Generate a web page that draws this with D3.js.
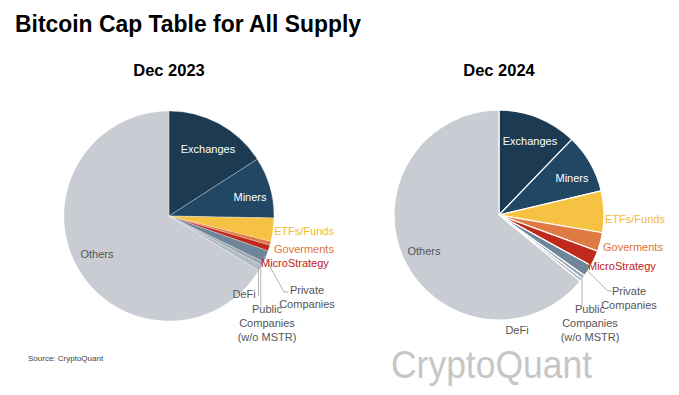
<!DOCTYPE html>
<html lang="en">
<head>
    <meta charset="UTF-8">
    <title>Bitcoin Cap Table for All Supply</title>
    <script src="https://d3js.org/d3.v7.min.js"></script>
    <style>
        body { margin: 0; background: #fff; }
        svg { font-family: "Liberation Sans", Arial, sans-serif; }
    </style>
</head>
<body>
<div id="chart"></div>
<script>
const width = 679;
const height = 395;

// holder categories, clockwise from 12 o'clock
const categories = ["Exchanges", "Miners", "ETFs/Funds", "Goverments", "MicroStrategy",
    "Private Companies", "Public Companies (w/o MSTR)", "DeFi", "Others"];

// share of supply (%)
const values2023 = [15.9, 9.4, 3.6, 0.6, 0.9, 1.8, 0.6, 0.9, 66.3];
const values2024 = [12.2, 9.1, 6.4, 2.9, 2.4, 1.8, 0.6, 0.5, 64.1];

const sliceColors = ["#1c3a52", "#214765", "#f6c244", "#e07a43", "#bf2a1c",
    "#6f8599", "#97a5b3", "#b2bbc5", "#c9cdd3"];
const labelColors = ["#ffffff", "#ffffff", "#f2b933", "#e0733a", "#c0221a",
    "#555", "#555", "#555", "#555"];

const svg = d3.select("#chart").append("svg")
    .attr("width", width)
    .attr("height", height);

svg.append("text")
    .attr("x", 15).attr("y", 32)
    .attr("font-size", 23).attr("font-weight", "bold")
    .attr("textLength", 346).attr("lengthAdjust", "spacingAndGlyphs")
    .text("Bitcoin Cap Table for All Supply");

svg.append("text")
    .attr("x", 28).attr("y", 361)
    .attr("font-size", 8).attr("fill", "#444")
    .text("Source: CryptoQuant");

// watermark
svg.append("text")
    .attr("x", 391).attr("y", 378)
    .attr("font-size", 38).attr("fill", "#c6c6c6")
    .attr("textLength", 201).attr("lengthAdjust", "spacingAndGlyphs")
    .text("CryptoQuant");

const r = 105;
const pie = d3.pie().sort(null).value(d => d);
const arc = d3.arc().innerRadius(0).outerRadius(r);

// label layout relative to pie center: [dx, dy, anchor, lines]
const layouts = {
    "2023": {
        cx: 169, cy: 216, stroke: 0.3,
        labels: [
            [39, -67, "middle", ["Exchanges"]],
            [81, -19, "middle", ["Miners"]],
            [105, 15, "start", ["ETFs/Funds"]],
            [105, 33, "start", ["Goverments"]],
            [92, 47, "start", ["MicroStrategy"]],
            [138, 74, "middle", ["Private", "Companies"]],
            [98, 93, "middle", ["Public", "Companies", "(w/o MSTR)"]],
            [75, 78, "middle", ["DeFi"]],
            [-72, 38, "middle", ["Others"]]
        ],
        leaders: { 5: [[115, 76], [119, 76]], 6: [null, [null, 90]], 7: [null, [null, 80]] }
    },
    "2024": {
        cx: 499, cy: 215, stroke: 1.2,
        labels: [
            [31, -74, "middle", ["Exchanges"]],
            [73, -37, "middle", ["Miners"]],
            [106, 4, "start", ["ETFs/Funds"]],
            [104, 32, "start", ["Goverments"]],
            [89, 51, "start", ["MicroStrategy"]],
            [130, 76, "middle", ["Private", "Companies"]],
            [91, 94, "middle", ["Public", "Companies", "(w/o MSTR)"]],
            [18, 115, "middle", ["DeFi"]],
            [-75, 36, "middle", ["Others"]]
        ],
        leaders: { 5: [[109, 76], [113, 76]], 6: [null, [null, 92]] }
    }
};

function drawPie(year, values) {
    const L = layouts[year];
    const g = svg.append("g").attr("transform", `translate(${L.cx},${L.cy})`);

    svg.append("text")
        .attr("x", L.cx).attr("y", 76)
        .attr("text-anchor", "middle")
        .attr("font-size", 16.5).attr("font-weight", "bold")
        .text("Dec " + year);

    const arcs = pie(values);

    g.selectAll("path")
        .data(arcs)
        .join("path")
        .attr("d", arc)
        .attr("fill", (d, i) => sliceColors[i])
        .attr("stroke", "#fff")
        .attr("stroke-width", L.stroke)
        .attr("stroke-linejoin", "round");

    // leader lines from the slice rim to its label
    Object.entries(L.leaders).forEach(([i, pts]) => {
        const a = arcs[+i];
        const mid = (a.startAngle + a.endAngle) / 2;
        const sx = Math.sin(mid) * (r - 2), sy = -Math.cos(mid) * (r - 2);
        const path = [[sx, sy]];
        if (pts[0]) path.push(pts[0]);
        const end = pts[1].map((v, k) => v === null ? (k === 0 ? sx : sy) : v);
        path.push(end);
        g.append("path")
            .attr("d", d3.line()(path))
            .attr("fill", "none")
            .attr("stroke", "#a0a0a0")
            .attr("stroke-width", 0.8);
    });

    L.labels.forEach(([dx, dy, anchor, lines], i) => {
        const t = g.append("text")
            .attr("x", dx).attr("y", dy)
            .attr("text-anchor", anchor)
            .attr("font-size", 11)
            .attr("fill", labelColors[i]);
        lines.forEach((s, k) => {
            t.append("tspan")
                .attr("x", dx)
                .attr("y", dy + k * 14)
                .attr("dy", "0.35em")
                .text(s);
        });
    });
}

drawPie("2023", values2023);
drawPie("2024", values2024);
</script>
</body>
</html>
